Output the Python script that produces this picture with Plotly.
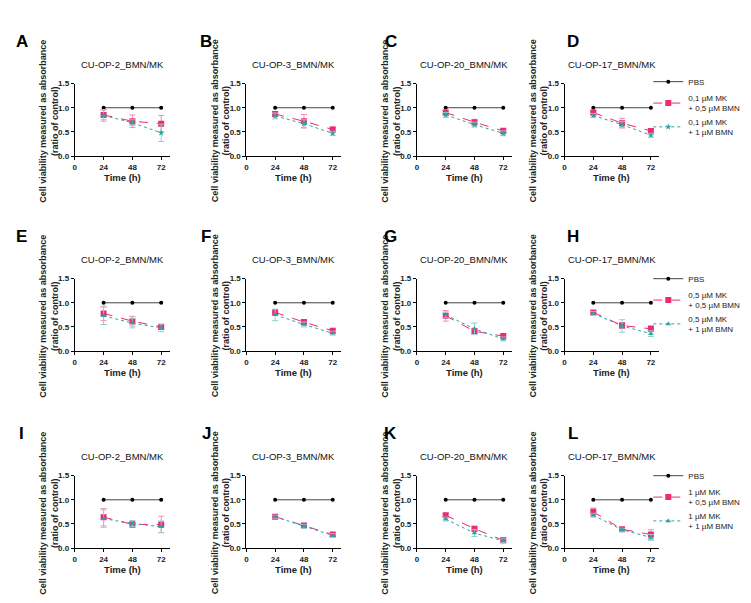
import plotly.graph_objects as go

# ---------------- data ----------------
time_h = [24, 48, 72]
pbs_values = [1.0, 1.0, 1.0]

cell_lines = ["CU-OP-2_BMN/MK", "CU-OP-3_BMN/MK", "CU-OP-20_BMN/MK", "CU-OP-17_BMN/MK"]
panel_letters = ["A", "B", "C", "D", "E", "F", "G", "H", "I", "J", "K", "L"]

legend_low_bmn = ["0,1 µM MK<br>+ 0,5 µM BMN", "0,5 µM MK<br>+ 0,5 µM BMN", "1 µM MK<br>+ 0,5 µM BMN"]
legend_high_bmn = ["0,1 µM MK<br>+ 1 µM BMN", "0,5 µM MK<br>+ 1 µM BMN", "1 µM MK<br>+ 1 µM BMN"]

# MK + 0.5 µM BMN (pink), panels A..L
low_bmn_mean = [
    [0.85, 0.72, 0.67], [0.87, 0.72, 0.55], [0.90, 0.70, 0.52], [0.90, 0.68, 0.52],
    [0.78, 0.62, 0.50], [0.80, 0.60, 0.42], [0.73, 0.41, 0.31], [0.80, 0.53, 0.46],
    [0.64, 0.49, 0.49], [0.65, 0.47, 0.28], [0.68, 0.40, 0.16], [0.75, 0.39, 0.28],
]
low_bmn_err = [
    [0.10, 0.13, 0.17], [0.05, 0.14, 0.05], [0.05, 0.06, 0.06], [0.04, 0.10, 0.05],
    [0.15, 0.10, 0.05], [0.06, 0.05, 0.05], [0.11, 0.05, 0.04], [0.04, 0.06, 0.06],
    [0.18, 0.06, 0.17], [0.04, 0.04, 0.04], [0.04, 0.05, 0.05], [0.08, 0.03, 0.10],
]
# MK + 1 µM BMN (teal), panels A..L
high_bmn_mean = [
    [0.84, 0.69, 0.48], [0.83, 0.67, 0.47], [0.85, 0.65, 0.47], [0.84, 0.65, 0.43],
    [0.73, 0.58, 0.48], [0.75, 0.55, 0.37], [0.75, 0.46, 0.25], [0.78, 0.52, 0.36],
    [0.61, 0.51, 0.44], [0.65, 0.45, 0.26], [0.60, 0.31, 0.15], [0.68, 0.38, 0.22],
]
high_bmn_err = [
    [0.12, 0.06, 0.18], [0.06, 0.08, 0.04], [0.05, 0.05, 0.05], [0.04, 0.06, 0.04],
    [0.18, 0.10, 0.08], [0.12, 0.05, 0.04], [0.06, 0.12, 0.04], [0.04, 0.13, 0.06],
    [0.18, 0.06, 0.12], [0.03, 0.04, 0.04], [0.04, 0.07, 0.04], [0.04, 0.03, 0.06],
]

y_ticks = [0, 0.5, 1.0, 1.5]
y_ticktext = ["0.0", "0.5", "1.0", "1.5"]
x_ticks = [0, 24, 48, 72]

# ---------------- layout geometry ----------------
W, H = 751, 603
col_left = [65, 237, 408, 556]
plot_w = 95
row_top = [72.7, 270.7, 470.7]
plot_h = 73.5
letter_x = [12, 197, 382, 565]
letter_y = [30, 228, 428]
legend_top = [56, 256, 456]

PINK = "#ee2a74"
PINK_ERR = "#f58db3"
TEAL = "#2fa3a3"
TEAL_ERR = "#8fd0d0"
FONT = "Arial, Liberation Sans, sans-serif"

def px(x):
    return x / W

def py(y):
    return 1 - y / H

fig = go.Figure()
annotations = []
layout_axes = {}

for r in range(3):
    for c in range(4):
        i = r * 4 + c
        n = i + 1
        xa = "x" if n == 1 else f"x{n}"
        ya = "y" if n == 1 else f"y{n}"
        leg = "legend" if r == 0 else f"legend{r + 1}"
        show = (c == 3)

        fig.add_trace(go.Scatter(
            x=time_h, y=pbs_values, xaxis=xa, yaxis=ya, name="PBS",
            mode="lines+markers", legend=leg, showlegend=show,
            line=dict(color="#444444", width=1),
            marker=dict(color="black", size=4, symbol="circle"),
        ))
        fig.add_trace(go.Scatter(
            x=time_h, y=low_bmn_mean[i], xaxis=xa, yaxis=ya, name=legend_low_bmn[r],
            mode="lines+markers", legend=leg, showlegend=show,
            line=dict(color=PINK, width=1, dash="dash"),
            marker=dict(color=PINK, size=6, symbol="square"),
            error_y=dict(type="data", array=low_bmn_err[i], color=PINK_ERR, thickness=1, width=3),
        ))
        fig.add_trace(go.Scatter(
            x=time_h, y=high_bmn_mean[i], xaxis=xa, yaxis=ya, name=legend_high_bmn[r],
            mode="lines+markers", legend=leg, showlegend=show,
            line=dict(color=TEAL, width=1, dash="dot"),
            marker=dict(color=TEAL, size=5, symbol="star" if r == 0 else "triangle-up"),
            error_y=dict(type="data", array=high_bmn_err[i], color=TEAL_ERR, thickness=1, width=3),
        ))

        x0, x1 = col_left[c], col_left[c] + plot_w
        y0, y1 = row_top[r], row_top[r] + plot_h
        axis_common = dict(
            showline=True, linecolor="black", linewidth=1, ticks="outside",
            ticklen=3, tickwidth=1, tickcolor="black", showgrid=False, zeroline=False,
            tickfont=dict(family=FONT, size=8, color="#222", weight="bold"),
            fixedrange=True,
        )
        layout_axes["xaxis" if n == 1 else f"xaxis{n}"] = dict(
            axis_common, domain=[px(x0), px(x1)], range=[0, 79], tickvals=x_ticks,
            anchor=ya,
        )
        layout_axes["yaxis" if n == 1 else f"yaxis{n}"] = dict(
            axis_common, domain=[py(y1), py(y0)], range=[0, 1.5], tickvals=y_ticks,
            ticktext=y_ticktext, anchor=xa,
        )

        cx = (x0 + x1) / 2
        annotations.append(dict(
            x=px(cx), y=py(y0 - 19.5), xref="paper", yref="paper", text=cell_lines[c],
            showarrow=False, xanchor="center", yanchor="middle",
            font=dict(family=FONT, size=9.5, color="#111"),
        ))
        annotations.append(dict(
            x=px(cx), y=py(y1 + 22), xref="paper", yref="paper", text="Time (h)",
            showarrow=False, xanchor="center", yanchor="middle",
            font=dict(family=FONT, size=9.5, color="#222", weight="bold"),
        ))
        annotations.append(dict(
            x=px(x0 - 26), y=py((y0 + y1) / 2 + 1), xref="paper", yref="paper",
            text="Cell viability measured as absorbance<br>(ratio of control)",
            textangle=-90, showarrow=False, xanchor="center", yanchor="middle",
            font=dict(family=FONT, size=9, color="#222", weight="bold"),
        ))
        annotations.append(dict(
            x=px(letter_x[c]), y=py(letter_y[r]), xref="paper", yref="paper",
            text=panel_letters[i], showarrow=False, xanchor="center", yanchor="middle",
            font=dict(family=FONT, size=17, color="black", weight="bold"),
        ))

legend_common = dict(
    font=dict(family=FONT, size=8, color="#222"), bgcolor="rgba(0,0,0,0)",
    itemwidth=30, xanchor="left", yanchor="top",
)
fig.update_layout(
    width=W, height=H, margin=dict(l=0, r=0, t=0, b=0),
    paper_bgcolor="white", plot_bgcolor="white",
    annotations=annotations,
    legend=dict(legend_common, x=px(640), y=py(legend_top[0])),
    legend2=dict(legend_common, x=px(640), y=py(legend_top[1])),
    legend3=dict(legend_common, x=px(640), y=py(legend_top[2])),
    **layout_axes,
)

fig.write_html("out.html")
